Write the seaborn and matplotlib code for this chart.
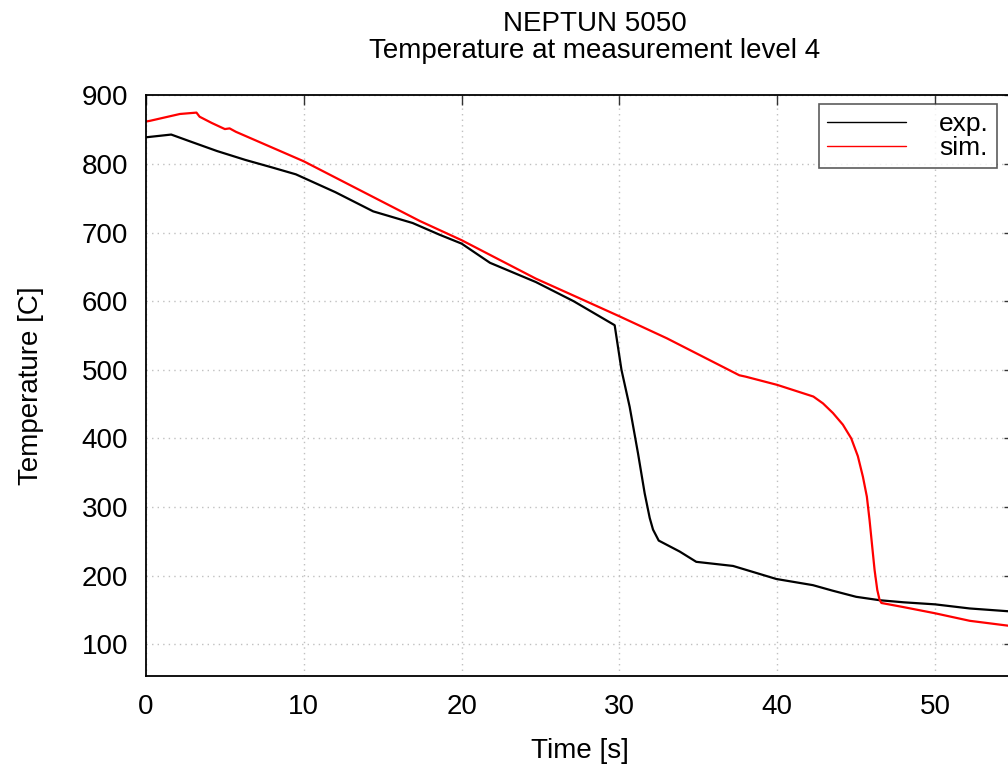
import matplotlib
matplotlib.use("Agg")
import matplotlib.pyplot as plt
import seaborn as sns
import pandas as pd

# experimental data (time [s], temperature [C])
exp_time = [0.0, 1.6, 2.8, 4.5, 6.3, 8.0, 9.5, 12.0, 14.4, 16.9, 18.6, 20.0, 21.8,
            24.7, 27.1, 29.7, 30.13, 30.65, 31.18, 31.6, 31.92, 32.13, 32.49,
            33.82, 34.87, 37.2, 38.5, 39.94, 42.26, 43.5, 45.0, 46.5, 48.0,
            50.0, 52.2, 54.6, 56.0]
exp_temp = [839, 843, 833, 819, 806, 795, 785, 759, 731, 714, 697, 684, 656,
            628, 600, 565, 500, 446, 378, 320, 284, 267, 251,
            235, 220, 214, 205, 195, 186, 178, 169, 164, 161,
            158, 152, 148, 146]

# simulation data
sim_time = [0.0, 0.25, 2.15, 3.2, 3.4, 4.16, 5.0, 5.3, 5.7, 7.1, 10.0, 17.35, 20.0,
            24.7, 27.5, 30.0, 33.0, 37.6, 38.0, 40.0, 42.29, 42.9, 43.53, 44.16,
            44.69, 45.11, 45.43, 45.68, 45.85, 46.02, 46.17, 46.34, 46.48, 46.6,
            48.0, 50.0, 52.2, 54.6, 56.0]
sim_temp = [862, 863, 873, 875, 869, 860, 851, 852, 847, 833, 804, 717, 689,
            633, 604, 578, 546, 492, 490, 478, 461, 451, 437, 420,
            400, 374, 344, 315, 281, 242, 208, 179, 165, 160,
            154, 145, 134, 127, 124]

x_ticks = [0, 10, 20, 30, 40, 50]
y_ticks = [100, 200, 300, 400, 500, 600, 700, 800, 900]

sns.set_style("white")
plt.rcParams["font.family"] = ["Liberation Sans", "DejaVu Sans"]
plt.rcParams["text.color"] = "black"
plt.rcParams["axes.labelcolor"] = "black"
plt.rcParams["xtick.color"] = "black"
plt.rcParams["ytick.color"] = "black"

fig = plt.figure(figsize=(10.08, 7.73), dpi=100)
ax = fig.add_axes([0.1448, 0.1259, 0.8611, 0.7506])

df_exp = pd.DataFrame({"Time": exp_time, "Temp": exp_temp})
df_sim = pd.DataFrame({"Time": sim_time, "Temp": sim_temp})
sns.lineplot(data=df_exp, x="Time", y="Temp", ax=ax, color="black", lw=1.6,
             label="exp.", sort=False, estimator=None)
sns.lineplot(data=df_sim, x="Time", y="Temp", ax=ax, color="#ff0000", lw=1.6,
             label="sim.", sort=False, estimator=None)

ax.set_xlim(0, 55)
ax.set_ylim(54, 900)
ax.set_xticks(x_ticks)
ax.set_yticks(y_ticks)
ax.grid(True, color="#c0c0c0", linestyle=(0, (1, 3)), linewidth=1.0)
for s in ax.spines.values():
    s.set_color("black")
    s.set_linewidth(1.3)
ax.tick_params(direction="in", length=7.2, width=1.0, labelsize=20, pad=13,
               top=True, right=True, color="#333333", labelcolor="black")

ax.set_xlabel("Time [s]", fontsize=20, labelpad=13)
ax.set_ylabel("Temperature [C]", fontsize=20, labelpad=27)

fig.text(595 / 1008, 1 - 11 / 773, "NEPTUN 5050", ha="center", va="top", fontsize=20)
fig.text(595 / 1008, 1 - 38 / 773, "Temperature at measurement level 4",
         ha="center", va="top", fontsize=20)

leg = ax.legend(loc="upper right", bbox_to_anchor=(997 / 1008, 1 - 104 / 773),
                bbox_transform=fig.transFigure, borderaxespad=0, fontsize=19,
                handlelength=3.0, handletextpad=1.25, borderpad=0.3,
                labelspacing=0.0, fancybox=False, frameon=True)
leg.get_frame().set_edgecolor("#333333")
leg.get_frame().set_linewidth(1.2)
for h in leg.get_lines():
    h.set_linewidth(1.0)

fig.savefig("out.png", dpi=100)
